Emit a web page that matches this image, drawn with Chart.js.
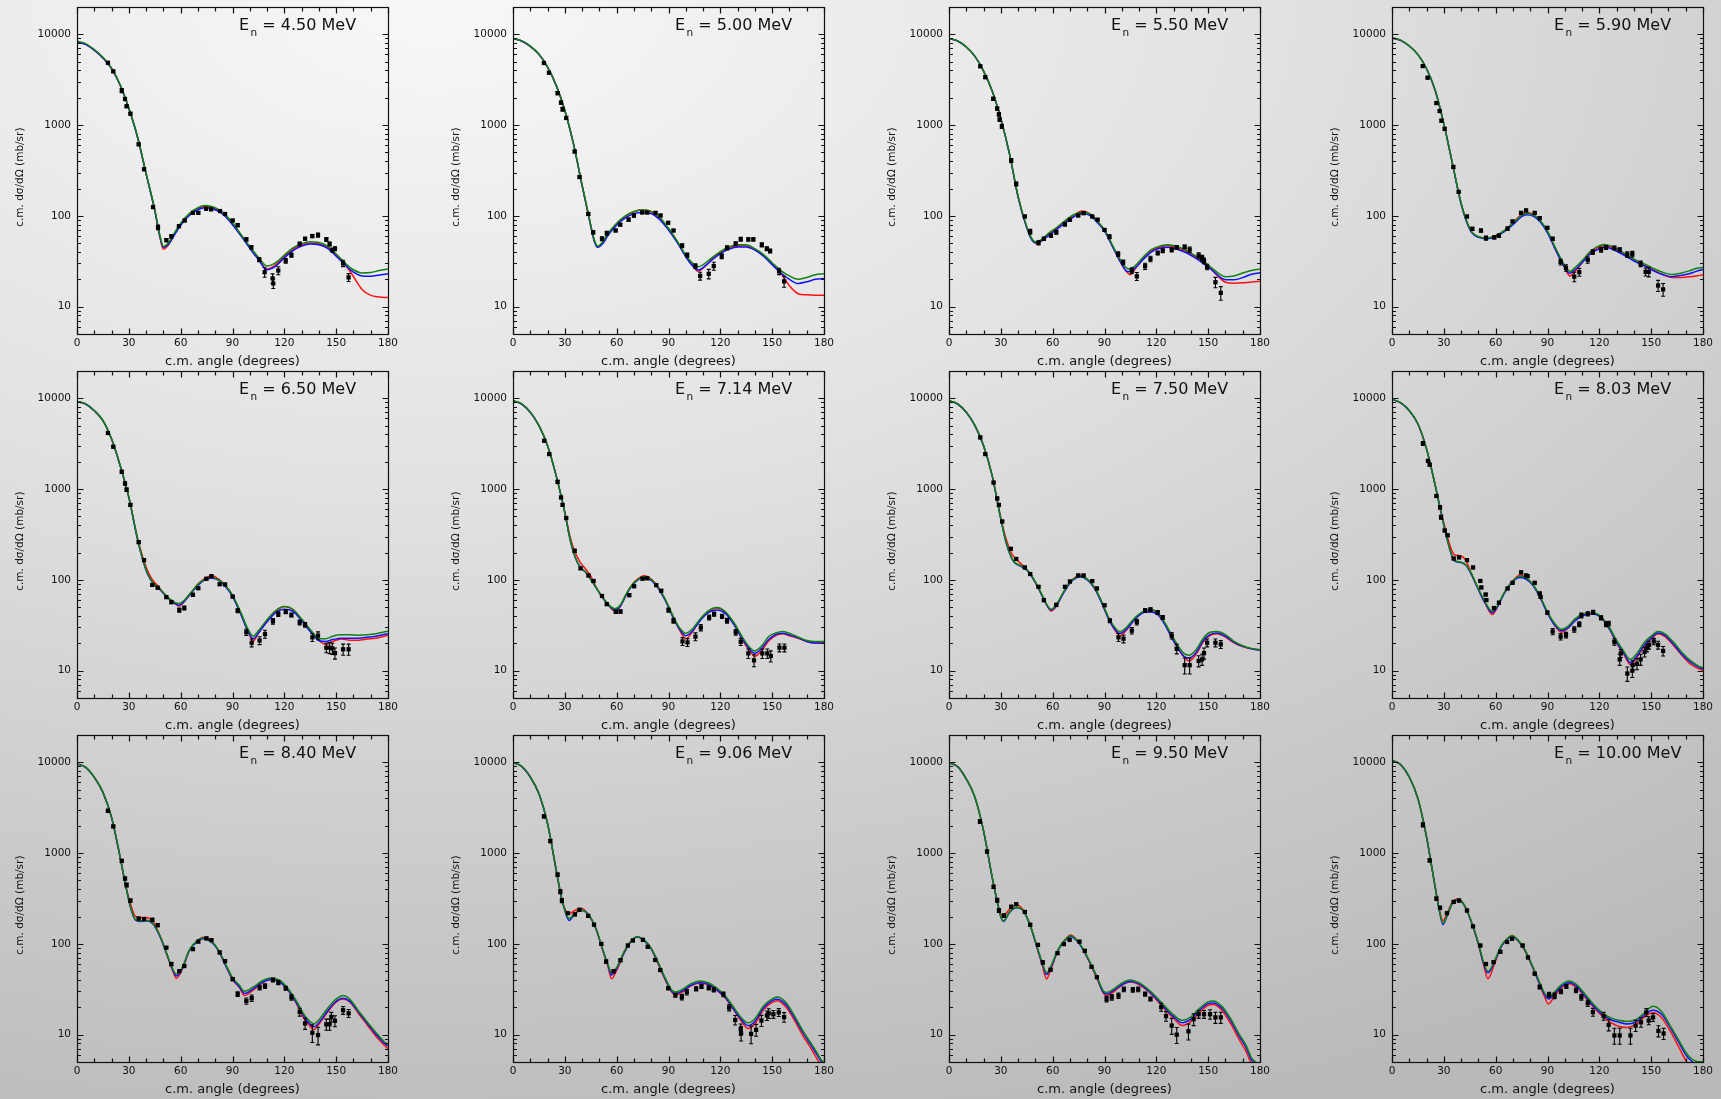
<!DOCTYPE html>
<html><head><meta charset="utf-8">
<script src="https://cdn.jsdelivr.net/npm/chart.js@4.4.1/dist/chart.umd.min.js"></script>
<style>
html,body{margin:0;padding:0;width:1721px;height:1099px;overflow:hidden;}
body{position:relative;background:radial-gradient(ellipse 120% 110% at 25% 0%, #f8f8f8 0%, #e2e2e2 40%, #c9c9c9 75%, #b9b9b9 100%);}
canvas{position:absolute;}
</style></head><body>
<script>
// ---------- DATA ----------
const energies = ['4.50','5.00','5.50','5.90','6.50','7.14','7.50','8.03','8.40','9.06','9.50','10.00'];
const yTickVals = [10,100,1000,10000];
const xTickStep = 30;

// 4.50 MeV
const ang1 = [0,5,10,15,20,25,30,35,40,45,48,50,53,56,60,65,70,74,78,82,86,90,95,100,105,110,115,120,125,130,135,140,145,150,155,160,165,170,175,180];
const red1 = [8200,7750,6700,5500,4200,2750,1520,740,290,115,58,43,48,61,81,104,120,127,124,115,101,83,61,45,33.5,26,29,36,43,48,50,49,45,37,29.5,21.5,15.5,13.3,12.8,12.6];
const blue1 = [8200,7750,6700,5500,4200,2750,1520,740,290,115,59,45,49,60,79,101,117,123,120,112,98,80,60,44,33,25.5,28,34.5,41.5,46.5,49,48,44,36,29,24,21.8,21.6,22.3,23];
const green1 = [8400,7900,6800,5600,4250,2780,1540,750,295,118,61,46,51,63,83,106,123,130,127,117,102,84,62,46,35,28,30.5,37,44.5,49.5,52,51,46.5,38,30.5,25.5,23.5,23.8,25,26];
const expX1 = [17.9,21.0,25.9,27.8,28.7,30.9,35.7,38.8,44.0,46.9,51.7,54.6,59.0,62.3,67.1,70.2,74.7,77.6,82.8,85.7,90.1,93.0,98.0,100.9,105.5,108.6,113.2,113.6,116.5,120.8,124.1,128.9,132.0,136.2,139.5,144.3,146.2,147.8,149.3,154.0,157.2];
const expY1 = [4870,3910,2400,1940,1610,1337,614,326,125,75,54,59.5,77,89,108,108,120,118,113,105,89,79,55,45,33,24,20.5,18,25,32,37,49,56,60,61.5,55,49,42,43.5,30,21];
const errPct1 = [3,3,5,3,3,3,3,3,3,6,4,4,3,3,3,3,3,3,3,3,3,4,4,4,5,12,12,12,10,6,5,5,4,4,5,5,5,5,5,8,10];

// 5.00 MeV
const ang2 = [0,5,10,15,20,25,30,35,40,44,47,49,52,55,60,65,70,75,80,85,90,95,100,104,107,110,115,120,125,130,135,140,145,150,155,160,165,170,175,180];
const red2 = [8960,8440,7370,6020,4360,2740,1450,620,216,96,54,45.5,51,63,82,99,111,117,110,94,72,52,36,28.5,24.5,26.5,33,39.5,44.5,47,46.5,42.5,36.5,29.5,23.5,17,13.9,13.5,13.4,13.4];
const blue2 = [8960,8440,7370,6020,4360,2740,1450,620,216,95,53,45,49.5,61,79,95,106,109,106,91,70,51,35.5,28,25.3,27,32.5,38.5,43,45.5,45.5,42,36,29,23.5,20,18,18.8,20,20.5];
const green2 = [9000,8480,7400,6050,4380,2750,1460,625,218,97,55,46.5,52,64,83,100,112,116,112,96,73,53,37,30,27.5,29,34.5,40.5,45.5,48,48,43.5,37.5,30.5,25,21.8,20,21,22.5,23];
const expX2 = [17.9,20.8,25.8,27.8,28.7,30.8,35.7,38.5,43.6,46.4,51.5,54.3,59.4,62.1,66.9,70.0,74.8,77.7,82.5,85.4,89.8,92.9,97.9,100.8,105.6,108.3,113.3,116.2,120.8,123.9,128.9,131.8,136.2,139.1,144.0,146.9,148.8,154.0,156.9];
const expY2 = [4830,3780,2250,1770,1500,1200,512,268,105,66,56,64.5,69,80,91,101,109,109,108,101,84,69,47,37,28,21.8,23,28,36,44.5,49.3,55.5,55,55,48,43.5,41,24.5,19];
const errPct2 = [3,3,4,4,5,3,3,3,3,4,5,5,3,3,4,4,3,3,3,3,3,3,5,5,6,10,12,10,6,5,5,5,4,4,5,5,5,8,14];

// 5.50 MeV
const ang3 = [0,5,10,15,20,25,30,35,40,45,48,50,53,57,62,67,72,77,82,86,90,95,100,103,105,108,112,117,122,127,132,137,142,147,152,157,160,165,170,175,180];
const red3 = [8960,8440,7250,5720,3940,2370,1170,482,161,75,55,50,52.5,61,72,86,101,113,104,87,70,45,29,24,22.5,26.5,33,41,45.5,47,44.5,40.5,36,31,25.5,20.5,18.6,18.1,18.3,18.7,19];
const blue3 = [8960,8440,7250,5720,3940,2370,1170,482,161,74,54,50.5,52,59.5,70,83,97,106,100,84,68,44.5,29.5,24.5,24.3,27,32.5,40,44,45,43,39.5,35,30,25.5,21,19.8,19.8,20.9,22.8,23.6];
const green3 = [9000,8480,7280,5750,3960,2380,1180,488,165,76,56,51.5,54,63,74,88,103,110,104,87,70,46,31,26.5,26,28.5,34.5,42.5,46.5,48,46,42,37,32,26.8,22.5,21.4,21.8,23.5,25,26];
const expX3 = [18.1,21.0,25.6,27.9,28.9,29.3,30.6,36.0,38.9,43.9,47.0,51.8,54.9,59.0,62.1,67.1,70.0,74.8,77.9,82.9,86.0,90.0,92.9,97.9,100.8,105.8,108.7,113.5,116.6,120.8,123.7,128.9,131.8,136.4,139.3,144.5,146.5,147.6,149.4,154.2,157.3];
const expY3 = [4440,3380,1950,1520,1310,1150,970,408,225,98.5,67,50.5,56,60.5,66,80.5,90.5,101,107,98.5,91,70,59,38,30.8,25,21.6,27.9,33.6,39,41.4,42.3,45,45.6,42.5,36.7,34.3,32,27.4,18.6,14.2];
const errPct3 = [3,4,4,4,4,4,5,5,5,3,6,5,4,4,5,4,3,3,3,3,3,3,5,6,6,7,10,8,7,5,5,5,5,5,7,7,7,7,7,13,17];

// 5.90 MeV
const ang4 = [0,5,10,15,20,25,30,35,40,43,46,50,55,60,65,70,75,78,82,86,90,95,100,103,106,110,115,120,123,127,132,137,142,147,152,157,162,167,172,176,180];
const red4 = [9110,8590,7430,5970,4180,2410,1030,374,136,89,67,59,57,60.5,69,84,104,110,103,87,67,41,26.5,21.8,24.5,30.5,39.5,45.5,47,45,40,35,31,28,25,22.5,21,21,21.3,21.8,22.5];
const blue4 = [9110,8590,7430,5970,4180,2410,1030,374,136,88,66,58,56,59,67,80,98,103,99,85,65,41,27,23.3,25.5,30.5,38.5,43.5,45,43.5,39,34.5,30.5,27.5,24.5,22.5,21.4,22,23,24.5,25.7];
const green4 = [9150,8630,7460,6000,4200,2430,1040,380,138,90,67,59,57,60.5,69,83,101,107,102,88,68,43,28.5,24.5,27,32,41,47,48.5,46.5,41.5,36,32,29,26,23.8,22.6,23.4,24.8,26.4,27];
const expX4 = [17.8,20.6,25.7,27.6,28.6,30.5,35.5,38.6,43.4,46.5,51.5,54.4,59.2,61.9,66.9,69.8,74.7,77.6,82.6,85.5,89.9,93.0,97.6,100.7,105.5,108.4,113.3,116.2,121.0,123.9,128.7,131.8,136.2,139.1,143.9,146.8,148.6,154.0,156.9];
const expY4 = [4470,3330,1750,1430,1120,910,346,184,98.5,72,69,57,58,60.5,72.5,87,108,115,108,94.5,74,56,31,26.7,21.4,24,32.7,40,42.4,45,44.4,42.4,37.5,38,29.7,24.2,24.2,17.1,15.5];
const errPct4 = [3,3,3,3,3,3,3,3,3,4,4,5,4,4,4,3,3,3,3,3,3,4,7,8,12,10,8,6,6,5,5,5,7,7,7,10,12,14,16];

// 6.50 MeV
const ang5 = [0,5,10,15,20,25,30,35,38,41,44,47,50,54,57,59,62,66,70,74,78,82,86,90,95,99,102,105,110,115,120,125,130,135,140,144,148,153,158,163,168,173,180];
const red5 = [9190,8660,7310,5670,3560,1810,810,290,180,124,98,85,72,60,54,51.5,57.5,72,90,104,111,102,86,67,41.5,27,21.2,26,35,44.5,50.8,47,36.5,27.5,21.5,19.5,21,22.3,21.7,21.7,22.3,22.8,24.5];
const blue5 = [9190,8660,7310,5670,3560,1810,810,280,168,114,92,82,71,60,54.5,52.5,58,71,87,100,104,99,84,66,41,27,22.5,26,34.5,43.5,47.5,45,35.5,27,21.5,20.9,22,22.8,22.8,22.8,23.3,24,25.6];
const green5 = [9250,8700,7350,5700,3580,1820,820,285,170,116,93,83,72,61,56,55,59.5,73,89,102,107,100,86,68,43,28.5,24,27.5,36.5,46,51,47.5,37,28.5,22.5,22.5,24,24.8,24.8,24.5,24.8,25.5,27.2];
const expX5 = [17.9,21.0,25.9,27.8,28.7,30.9,35.7,38.8,43.6,46.7,51.7,54.6,59.2,62.1,67.1,70.2,74.9,77.8,82.6,85.7,90.1,93.0,98.0,101.1,105.7,108.8,113.4,116.5,120.8,124.1,128.9,132.0,136.2,139.5,144.3,146.2,147.8,149.3,154.0,157.2];
const expY5 = [4150,2930,1550,1150,985,670,260,165,88,82,64.5,57,46.5,49,68.5,81,103,110,89.5,89,65.5,45.8,26.5,20.3,21.5,25.3,35,42,44.7,41,34,32,23.3,24.3,17.9,17.9,17.6,15.6,17.2,17.2];
const errPct5 = [3,3,4,4,4,3,3,3,3,3,3,4,5,5,4,3,3,3,3,3,3,5,8,10,10,10,7,6,5,5,6,6,10,10,12,14,14,14,14,14];

// 7.14 MeV
const ang6 = [0,5,10,15,20,25,30,33,36,39,42,45,48,52,56,59,62,66,70,74,76,80,84,88,92,96,100,104,108,113,118,123,128,133,137,140,144,148,152,156,160,165,170,175,180];
const red6 = [9350,8660,7010,5000,3010,1400,560,300,200,155,132,110,84,63,50.5,45.5,50.5,72,94,108,111,102,83,61,41.5,29,22.5,27,35.5,44.5,49,43.5,32,21.5,16.5,14.4,16.8,21.2,24.3,25.5,24.3,22.7,21,20.2,20.2];
const blue6 = [9350,8660,7010,5000,3010,1400,545,280,177,137,121,101,82,63,51,46.5,51,71,91,104,105,99,81,60,41,29.5,24.3,27.5,35,43.5,46.5,42.5,32,22,17.2,15.6,17.7,22,25,25.8,24.8,23,21,20.2,20.2];
const green6 = [9400,8700,7050,5030,3030,1410,550,282,178,138,122,102,83,64,52,48,52.5,73,93,106,108,101,83,62,42.5,30.5,25.8,29,36.5,45.5,49.5,44.5,33.5,23,18,16.5,18.8,23.8,26,27,25.8,23.5,21.5,20.9,20.9];
const expX6 = [18.1,21.0,25.8,27.8,28.7,30.8,35.7,39.1,43.7,46.6,51.5,54.3,59.5,62.2,67.3,70.1,75.0,77.7,82.9,85.8,90.0,92.9,98.1,101.0,105.6,108.7,113.5,116.4,121.0,123.9,128.9,131.8,136.2,139.5,144.3,147.2,149.2,154.2,157.1];
const expY6 = [3410,2430,1200,810,670,480,209,134,112,97.3,66.5,54,44.5,44.8,68,85,103,104,87.5,76,46.5,35.5,21,20.5,23.7,29.8,38.6,42,39.7,35.5,26.5,20.8,15.5,13,15.5,15.5,14.5,17.9,17.9];
const errPct6 = [3,3,4,3,3,3,4,3,3,3,3,3,4,4,4,3,3,3,3,3,5,6,10,10,10,8,6,5,5,6,7,9,12,15,12,12,14,10,10];

// 7.50 MeV
const ang7 = [0,5,10,15,20,25,30,33,36,38,41,44,47,50,54,57,59,62,66,70,74,76,80,84,88,92,96,99,103,108,113,117,121,125,129,133,136,139,143,147,151,155,160,165,170,175,180];
const red7 = [9350,8660,7010,5000,3010,1400,480,285,200,175,155,135,116,93,66.5,51,45.5,51,71,94,110,112,102,82.5,58.5,38.6,28,24.3,28.5,37.5,44.7,46.5,42,32.5,23,17,14.2,12.8,15.2,20.5,24.3,25.5,23.5,20.2,18.4,17.4,16.9];
const blue7 = [9350,8660,7010,5000,3010,1400,465,260,177,155,143,133,116,93,66,51,46.5,51.5,70,92,106,108,100,82,58,38.6,28.5,25.8,29,37.5,44,44.4,41,32,23,17.2,14.4,13.8,15.8,21.2,25,26,24,20.5,18.5,17.4,16.9];
const green7 = [9400,8700,7050,5030,3030,1410,470,262,178,156,145,135,118,95,67.5,52,47.5,53,72,94,108,110,102,84,60,40,30,27,30.5,39,45.5,47.3,43,33.5,24.5,18.3,15.5,14.8,17,22.5,26.5,27,25,21,18.8,17.6,17.1];
const expX7 = [18.1,21.0,25.8,27.9,28.9,30.8,35.8,38.9,43.9,47.0,51.8,54.9,62.1,67.1,70.0,74.8,77.9,82.9,85.6,90.0,93.1,98.1,101.0,105.8,108.7,113.5,116.6,120.8,123.7,128.9,131.8,136.4,139.3,144.5,146.5,147.6,149.4,154.2,157.3];
const expY7 = [3710,2430,1180,790,670,440,220,170,137,116,84,60,53,84,96,112,112,97,80.5,52.5,35.5,23.3,22.5,27.6,34.3,46,47,43.8,38.6,24.3,17.4,11.5,11.5,12.8,13.3,15.6,20.3,20.3,19.5];
const errPct7 = [3,3,3,3,3,3,3,3,3,3,3,4,4,3,3,3,3,3,3,3,5,10,10,8,7,5,5,5,5,8,12,20,20,14,14,14,10,10,10];

// 8.03 MeV
const ang8 = [0,5,10,15,20,25,28,31,34,36,40,43,46,50,54,58,61,65,70,74,78,82,86,90,94,98,102,106,111,116,121,126,130,134,138,142,146,150,154,158,163,168,173,178,180];
const red8 = [9750,8900,7310,5210,2760,1100,600,355,226,190,183,160,116,79,55,41.5,50,72,98,113,104,86,63,43.5,32,26.5,29.5,36,41.4,42.7,38.6,28.5,20.3,15.3,11.7,14.2,18.6,22.3,25.5,23.7,18.9,14.6,11.7,10.4,10.1];
const blue8 = [9750,8900,7310,5210,2760,1100,600,330,200,163,155,143,114,78,55,43.5,50.5,71,96,106,101,85,62,43,32,27.5,29.8,35.5,40.8,42.3,38.3,28.5,20.5,15.8,12.3,14.7,19.2,23,26,24.5,19.5,15,12.3,10.8,10.5];
const green8 = [9800,8950,7350,5240,2780,1110,605,333,202,165,157,145,117,80,57,45,52,73,98,110,104,87,64,44.5,33.5,28.6,31,37.5,42.5,43.5,39.5,29.5,21.5,16.5,13.3,15.7,20.5,24,27,25.5,20.5,15.8,12.8,11.1,10.8];
const expX8 = [17.9,20.8,21.8,25.7,27.8,28.4,30.5,32.2,35.7,38.8,43.4,46.9,51.1,51.7,54.2,54.6,59.0,61.9,66.9,69.8,74.7,77.6,78.5,82.6,85.5,86.0,89.9,93.0,97.6,100.7,105.5,108.4,109.6,113.3,116.4,121.0,123.9,125.4,128.7,131.8,132.4,136.2,139.1,139.3,141.8,143.9,146.2,147.6,148.8,151.5,154.0,156.9];
const expY8 = [3190,2050,1860,840,630,490,350,310,172,177,165,137,97.3,82.5,69,60,49,56,80.5,93,121,112,110,93,71,65,43.5,27,23.7,24.7,28.5,32.5,40.6,42.3,44,38.2,32.5,33,20.8,13.3,15.5,9.3,10,11.5,11.9,13.3,16.1,17.9,19.2,21,19.2,16.5];
const errPct8 = [5,3,3,3,4,5,3,3,3,3,3,3,3,3,3,3,4,4,3,3,3,3,3,3,3,3,4,8,8,7,7,6,6,5,5,5,6,6,8,14,10,18,16,12,14,14,12,10,10,8,10,12];

// 8.40 MeV
const ang9 = [0,5,10,15,20,25,28,31,34,37,40,44,48,52,55,57.5,61,65,70,73,78,82,86,90,94,97,102,107,112,117,122,127,131,134,137,141,145,149,154,158,163,168,173,178,180];
const red9 = [9590,8810,6830,4670,2470,895,455,275,200,195,195,175,123,76,53,41.7,53,84,110,118,106,84,58,40.5,33,27,31,37,40.5,38.5,31,22,15.5,13,11.4,13.9,17.6,22,24.7,22.8,17,12.8,9.6,7.6,7];
const blue9 = [9590,8810,6830,4670,2470,895,455,250,182,177,180,166,121,77,54,44.3,54,84,108,114,104,83,58,41,33.5,28.5,32,37.5,40.5,38.5,31.5,22.5,16.3,13.6,12.2,14.3,18.2,22.5,25.2,23.3,17.6,13.3,10.1,8,7.5];
const green9 = [9650,8850,6870,4700,2490,900,458,252,184,179,182,168,123,78,55,46.5,55.5,86,110,116,106,85,60,42.5,35,30,33.5,39,42,40,32.5,23.5,17.2,14.5,13.2,15.4,19.5,23.8,27,24.5,18.2,13.8,10.6,8.3,7.8];
const expX9 = [17.9,21.0,25.9,27.8,28.7,30.9,35.7,38.8,43.6,46.7,51.7,54.6,59.2,62.1,67.1,70.2,74.9,77.8,82.6,85.7,90.1,93.0,98.0,101.1,105.7,108.8,113.4,116.5,120.8,124.1,128.9,132.0,136.2,139.5,144.3,146.2,147.2,149.3,154.0,157.2];
const expY9 = [2930,1970,820,525,445,300,190,187,184,161,91,60,50,57,87.5,106,115,110,80.5,64.5,41,28,23.5,25.3,33,34.3,40,37.5,32.5,25.8,17.8,13.3,10.5,9.9,13,13,15.7,14.2,18.6,17.2];
const errPct9 = [4,3,4,4,5,4,3,3,4,4,3,4,3,3,3,3,3,3,3,3,4,6,8,8,6,6,5,5,5,7,10,14,22,22,14,14,12,14,10,10];

// 9.06 MeV
const ang10 = [0,5,10,15,20,25,28,30,32.5,36,40,44,48,52,55,57,60,64,68,72,76,80,84,88,92,94,98,103,108,113,118,123,128,132,136,140,145,150,153,158,163,168,172,176,178,180];
const red10 = [9920,9030,6890,4510,2110,650,325,245,215,235,245,205,147,84,56,41.3,51,77,104,120,109,88,60,40.5,29.2,27.2,29.5,34.5,37,35.5,30.8,25.2,18.4,14.2,11.7,13.1,18.8,22.7,23.7,20.2,14.3,9.6,7.3,5.4,4.7,4.2];
const blue10 = [9920,9030,6890,4510,2110,650,325,233,181,218,233,205,147,85,58,45.5,53,78,105,119,108,88,61.5,41.3,29.8,28.4,30.3,35,37.3,36,31.2,25.6,18.8,14.8,12.6,14,19.7,23.7,24.5,21.3,15.2,10.4,7.9,6,5.2,4.75];
const green10 = [9950,9060,6920,4530,2120,655,327,235,190,220,235,207,149,86,59,48.2,55,80,106,120,110,90,63,42.5,30.8,29.5,31.5,36.5,39,37.3,32.5,26.5,19.7,15.5,13.5,15,20.7,24.8,26,22.6,16,10.9,8.3,6.3,5.4,4.9];
const expX10 = [17.9,21.6,25.8,27.4,28.3,31.8,35.8,38.5,43.5,46.9,51.1,53.9,58.2,62.2,66.5,69.4,75.2,78.0,82.3,85.2,89.8,94.0,97.7,100.6,106.0,109.1,113.3,116.2,121.8,125.1,128.6,131.8,132.0,137.8,140.7,143.8,147.0,148.0,150.7,153.8,156.9];
const expY10 = [2540,1360,580,376,300,218,211,238,204,163,100,64,50,66,96,109,111,93,66.5,51.5,32.5,27.2,26,29.4,32,34,32.8,31.2,27.8,19.9,14.5,11.5,10.4,10.2,11.3,14.3,16.3,17.2,16.8,17.6,15.6];
const errPct10 = [4,4,4,5,5,3,3,3,3,3,3,4,3,3,3,3,3,3,3,3,4,5,7,7,5,5,5,5,6,8,12,14,18,22,15,14,12,12,10,10,12];

// 9.50 MeV
const ang11 = [0,5,10,15,20,25,28,30,31.5,35,39,43,47,51,54,56.5,59,63,67,70.5,74,78,82,86,89,91,95,100,105,110,115,120,125,130,135,140,145,150,153,158,163,168,172,175,178,180];
const red11 = [9920,8960,6550,4110,1760,540,290,212,205,240,270,235,160,90,58,41,53,84,110,125,110,84,59,40,29.5,26.9,29.5,35,38.2,35.5,30.5,24.3,19,15.2,12.6,13.9,17.6,21,21.5,18.5,13.2,8.8,6.5,4.75,3.9,3.5];
const blue11 = [9920,8960,6550,4110,1760,540,285,198,177,222,250,231,158,91,60,46,55,84,108,121,108,84,60,41,30,28,30.5,35.5,38.6,36.2,31,25,19.6,15.8,13.5,14.8,18.6,22,22.4,19.5,14.3,9.6,7.2,5.3,4.6,4.2];
const green11 = [9950,8990,6580,4130,1770,545,287,200,179,224,252,233,160,93,62,48,57,86,110,123,110,86,61,42,31,29.2,31.5,37,40,37.5,32,26,20.5,16.5,14.4,15.7,19.5,23,23.5,20.5,15,10.1,7.6,5.6,4.9,4.5];
const expX11 = [17.9,22.0,25.8,27.9,28.9,31.8,36.0,38.9,43.9,47.0,51.5,54.3,58.8,62.8,66.5,69.8,75.5,78.6,82.5,85.6,91.2,94.2,98.1,101.2,106.4,109.5,113.5,116.6,122.8,125.6,128.9,131.8,138.6,141.6,144.5,147.6,151.1,154.2,157.3];
const expY11 = [2230,1040,425,303,234,205,256,273,225,162,97.5,62.5,52,79,99.5,111,106,84,56,43,24.7,25.8,26.9,31.6,31.2,31.6,28,24.7,20.1,16,12.6,10,10.9,14.8,16.8,16.8,16.8,15.5,15.5];
const errPct11 = [5,4,4,5,5,4,4,3,3,4,3,4,3,3,3,3,3,3,3,3,7,7,7,6,6,6,5,5,10,12,20,20,20,15,10,10,12,14,14];

// 10.00 MeV
const ang12 = [0,5,10,15,20,24,27,29.5,32,35,38.5,42,46,50,53,55.5,59,63,67,69.5,73,77,81,85,88,90.5,94,98,102.5,107,112,117,122,127,132,136,141,146,151,156,161,166,170,173,176,180];
const red12 = [10500,9420,6890,3980,1500,545,260,181,220,290,315,265,172,99,59,41.3,58,92,115,124,108,84,57,37.5,27,21.8,26.5,33,36.5,33,25.5,19.8,15.8,13.5,12.2,12,12.9,15.6,17.4,15.4,11,7.3,5.2,4.3,3.6,3];
const blue12 = [10500,9420,6890,3980,1500,545,255,163,205,280,305,262,173,100,61,48,61,92,114,121,108,85,58,38,28.3,24.7,28,34,37.3,34,26.3,20.3,16.5,14.5,13.6,13.1,13.8,16.4,18.6,16.8,12,8.2,6,5.2,4.7,4.4];
const green12 = [10550,9450,6920,4000,1510,548,257,169,208,283,308,264,175,102,63,50,63,94,116,123,110,86,59,39.5,29.5,26,29.5,35.5,39,35.5,27.5,21.2,17.3,15.2,14.3,14,14.6,17.3,20.5,18,12.6,8.7,6.4,5.5,5.1,5];
const expX12 = [17.9,21.8,25.7,27.8,31.8,35.7,38.8,43.4,46.9,51.1,54.4,58.8,62.7,66.6,69.5,75.6,78.7,82.6,85.5,90.9,94.1,97.8,100.9,106.5,109.6,113.3,116.3,122.5,125.4,128.7,131.8,138.0,141.0,144.1,147.2,148.6,151.1,154.2,157.2];
const expY12 = [2050,830,315,250,218,290,300,233,156,96,60,63,82,105,114,96,71,47,33.5,27.6,26.8,30,34,30.8,25.8,22.2,17.7,16,12.8,9.8,9.8,9.8,12.6,13.7,17.6,14.3,15.5,11,10.3];
const errPct12 = [5,4,4,4,3,3,3,3,3,3,3,3,3,3,3,3,3,3,5,6,7,6,5,6,7,8,10,10,14,20,20,20,14,12,10,10,10,14,14];

// ---------- assemble ----------
const panels = [
  {ang:ang1,red:red1,blue:blue1,green:green1,x:expX1,y:expY1,e:errPct1},
  {ang:ang2,red:red2,blue:blue2,green:green2,x:expX2,y:expY2,e:errPct2},
  {ang:ang3,red:red3,blue:blue3,green:green3,x:expX3,y:expY3,e:errPct3},
  {ang:ang4,red:red4,blue:blue4,green:green4,x:expX4,y:expY4,e:errPct4},
  {ang:ang5,red:red5,blue:blue5,green:green5,x:expX5,y:expY5,e:errPct5},
  {ang:ang6,red:red6,blue:blue6,green:green6,x:expX6,y:expY6,e:errPct6},
  {ang:ang7,red:red7,blue:blue7,green:green7,x:expX7,y:expY7,e:errPct7},
  {ang:ang8,red:red8,blue:blue8,green:green8,x:expX8,y:expY8,e:errPct8},
  {ang:ang9,red:red9,blue:blue9,green:green9,x:expX9,y:expY9,e:errPct9},
  {ang:ang10,red:red10,blue:blue10,green:green10,x:expX10,y:expY10,e:errPct10},
  {ang:ang11,red:red11,blue:blue11,green:green11,x:expX11,y:expY11,e:errPct11},
  {ang:ang12,red:red12,blue:blue12,green:green12,x:expX12,y:expY12,e:errPct12}
];

const RED='#ff1010', BLUE='#1010ff', GREEN='#0f820f';
const canvasLeft=[0,436,872,1315], canvasTop=[3,367,731];
const CW=400, CH=369;
Chart.defaults.font.family='"DejaVu Sans", sans-serif';
Chart.defaults.color='#111';

const framePlugin = {
  id:'frame',
  afterDatasetsDraw(chart, args, opts){
    const idx = opts.idx;
    const p = panels[idx];
    if(!p) return;
    const {ctx, chartArea:a, scales:{x,y}} = chart;
    ctx.save();
    ctx.beginPath(); ctx.rect(a.left,a.top,a.right-a.left,a.bottom-a.top); ctx.clip();
    ctx.strokeStyle='#000'; ctx.lineWidth=1.1;
    for(let k=0;k<p.x.length;k++){
      const v=p.y[k], d=v*p.e[k]/100;
      const px=x.getPixelForValue(p.x[k]);
      const y1=y.getPixelForValue(v-d), y2=y.getPixelForValue(v+d);
      ctx.beginPath();
      ctx.moveTo(px,y1); ctx.lineTo(px,y2);
      ctx.moveTo(px-2,y1); ctx.lineTo(px+2,y1);
      ctx.moveTo(px-2,y2); ctx.lineTo(px+2,y2);
      ctx.stroke();
    }
    ctx.restore();
  },
  afterDraw(chart, args, opts){
    const idx = opts.idx;
    const {ctx, chartArea:a, scales:{x,y}} = chart;
    ctx.save();
    ctx.strokeStyle='#111'; ctx.lineWidth=1.2;
    const L=Math.round(a.left)+0.5, R=Math.round(a.right)+0.5, T=Math.round(a.top)+0.5, B=Math.round(a.bottom)+0.5;
    ctx.strokeRect(L,T,R-L,B-T);
    ctx.beginPath();
    for(let v=0; v<=180; v+=10){
      const px=Math.round(x.getPixelForValue(v))+0.5;
      const len = v%30===0?6:4;
      ctx.moveTo(px,B); ctx.lineTo(px,B-len);
      ctx.moveTo(px,T); ctx.lineTo(px,T+len);
    }
    for(let dec=1; dec<=10000; dec*=10){
      for(let m=1; m<=9; m++){
        const v=m*dec;
        if(v<5 || v>20000) continue;
        const py=Math.round(y.getPixelForValue(v))+0.5;
        const len = m===1?6:3.5;
        ctx.moveTo(L,py); ctx.lineTo(L+len,py);
        ctx.moveTo(R,py); ctx.lineTo(R-len,py);
      }
    }
    ctx.stroke();
    // energy label
    const lx=a.left+162, ly=a.top+23;
    ctx.fillStyle='#111'; ctx.textBaseline='alphabetic'; ctx.textAlign='left';
    ctx.font='16px "DejaVu Sans", sans-serif';
    ctx.fillText('E', lx, ly);
    const w=ctx.measureText('E').width;
    ctx.font='10.5px "DejaVu Sans", sans-serif';
    ctx.fillText('n', lx+w+1.5, ly+5.5);
    const wn=ctx.measureText('n').width;
    ctx.font='16px "DejaVu Sans", sans-serif';
    ctx.fillText(' = '+energies[idx]+' MeV', lx+w+1.5+wn, ly);
    ctx.restore();
  }
};

panels.forEach((p,i)=>{
  const col=i%4, row=Math.floor(i/4);
  const cv=document.createElement('canvas');
  cv.width=CW; cv.height=CH;
  cv.style.left=canvasLeft[col]+'px'; cv.style.top=canvasTop[row]+'px';
  cv.style.width=CW+'px'; cv.style.height=CH+'px';
  document.body.appendChild(cv);
  const curve=(vals,color)=>({type:'line', data:p.ang.map((a,k)=>({x:a,y:vals[k]})), borderColor:color, backgroundColor:color, borderWidth:1.5, pointRadius:0, fill:false, cubicInterpolationMode:'monotone', showLine:true});
  new Chart(cv,{
    type:'scatter',
    data:{datasets:[
      {type:'scatter', data:p.x.map((a,k)=>({x:a,y:p.y[k]})), pointRadius:3, pointStyle:'rect', backgroundColor:'#000', borderColor:'#000', borderWidth:0, showLine:false},
      curve(p.green,GREEN), curve(p.blue,BLUE), curve(p.red,RED)
    ]},
    options:{
      responsive:false, animation:false, events:[],
      layout:{padding:{top:4,right:12,left:0,bottom:0}},
      plugins:{legend:{display:false}, tooltip:{enabled:false}, title:{display:false}, frame:{idx:i}},
      scales:{
        x:{type:'linear', min:0, max:180,
           ticks:{stepSize:xTickStep, autoSkip:false, maxRotation:0, padding:3, font:{size:10.5}, color:'#111'},
           grid:{display:false, drawTicks:false}, border:{display:false},
           title:{display:true, text:'c.m. angle (degrees)', font:{size:13}, color:'#111', padding:{top:0,bottom:2.5}},
           afterFit:(s)=>{s.height=38; s.paddingLeft=0; s.paddingRight=0;}},
        y:{type:'logarithmic', min:5, max:20000,
           afterBuildTicks:(s)=>{s.ticks=yTickVals.map(v=>({value:v}));},
           ticks:{callback:(v)=>String(v), padding:6, font:{size:10.5}, color:'#111', autoSkip:false},
           grid:{display:false, drawTicks:false}, border:{display:false},
           title:{display:true, text:'c.m. dσ/dΩ (mb/sr)\u00a0\u00a0\u00a0\u00a0', font:{size:10.5}, color:'#111', padding:{top:14,bottom:0}},
           afterFit:(s)=>{s.width=77; s.paddingTop=0; s.paddingBottom=0;}}
      }
    },
    plugins:[framePlugin]
  });
});
</script>
</body></html>
